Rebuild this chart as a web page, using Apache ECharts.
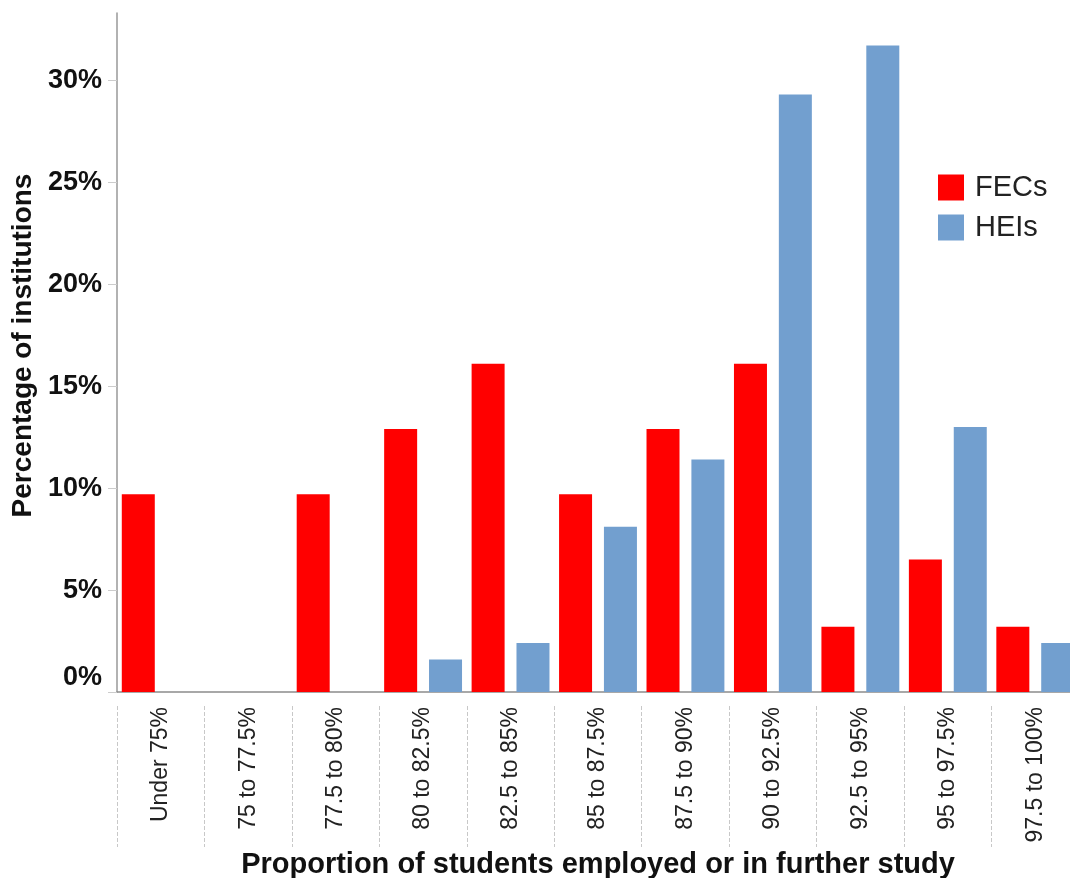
<!DOCTYPE html>
<html>
<head>
<meta charset="utf-8">
<script src="https://cdn.jsdelivr.net/npm/echarts@6/dist/echarts.min.js"></script>
<style>
html,body{margin:0;padding:0;background:#fff;}
#chart{width:1070px;height:878px;}
</style>
</head>
<body>
<div id="chart"></div>
<script>
const categories = ['Under 75%','75 to 77.5%','77.5 to 80%','80 to 82.5%','82.5 to 85%','85 to 87.5%','87.5 to 90%','90 to 92.5%','92.5 to 95%','95 to 97.5%','97.5 to 100%'];
const fecs = [9.7, 0, 9.7, 12.9, 16.1, 9.7, 12.9, 16.1, 3.2, 6.5, 3.2];
const heis = [0, 0, 0, 1.6, 2.4, 8.1, 11.4, 29.3, 31.7, 13.0, 2.4];
const yTicks = [0, 5, 10, 15, 20, 25, 30];
const seriesNames = ['FECs', 'HEIs'];
const xTitle = 'Proportion of students employed or in further study';
const yTitle = 'Percentage of institutions';

const FONT = '"Liberation Sans", Arial, sans-serif';
const chart = echarts.init(document.getElementById('chart'), null, {renderer: 'canvas'});
chart.setOption({
  backgroundColor: '#fff',
  animation: false,
  grid: {left: 117, top: 13, bottom: 186, width: 962, containLabel: false, outerBoundsMode: 'none'},
  legend: {
    orient: 'vertical', left: 933, top: 168,
    itemWidth: 26, itemHeight: 26, itemGap: 11,
    icon: 'rect',
    textStyle: {fontFamily: FONT, fontSize: 29, color: '#222', lineHeight: 26, padding: [0, 0, 0, 6]},
    data: seriesNames
  },
  xAxis: [{
    type: 'category', data: categories, position: 'bottom',
    axisLine: {show: true, lineStyle: {color: '#8c8c8c', width: 1.5}},
    axisTick: {show: false},
    axisLabel: {rotate: 90, interval: 0, margin: 15, fontFamily: FONT, fontSize: 23, color: '#222'},
    name: xTitle, nameLocation: 'middle', nameGap: 155,
    nameTextStyle: {fontFamily: FONT, fontSize: 29, fontWeight: 'bold', color: '#111'}
  }, {
    type: 'category', data: categories, position: 'bottom', offset: 14,
    axisLine: {show: false},
    axisTick: {show: true, interval: 0, length: 141, lineStyle: {color: '#c8c8c8', type: 'dashed', width: 1}},
    axisLabel: {show: false}
  }],
  yAxis: {
    type: 'value', min: 0, max: 33.3,
    axisLine: {show: true, lineStyle: {color: '#999', width: 1.5}},
    axisTick: {show: true, length: 9, lineStyle: {color: '#ccc'}, customValues: yTicks},
    splitLine: {show: false},
    axisLabel: {
      customValues: yTicks, margin: 15,
      fontFamily: FONT, fontSize: 27, fontWeight: 'bold', color: '#111',
      formatter: function (v) { return v === 0 ? '{z|0%}' : v + '%'; },
      rich: {z: {fontFamily: FONT, fontSize: 27, fontWeight: 'bold', color: '#111', padding: [0, 0, 28, 0]}}
    },
    name: yTitle, nameLocation: 'middle', nameGap: 80,
    nameTextStyle: {fontFamily: FONT, fontSize: 28, fontWeight: 'bold', color: '#111', padding: [0, 0, 0, 14]}
  },
  series: [{
    name: seriesNames[0], type: 'bar', data: fecs, xAxisIndex: 0,
    barWidth: 33, barGap: '36%',
    itemStyle: {color: '#ff0000'}
  }, {
    name: seriesNames[1], type: 'bar', data: heis, xAxisIndex: 0,
    barWidth: 33, barGap: '36%',
    itemStyle: {color: '#729fcf'}
  }]
});
</script>
</body>
</html>
